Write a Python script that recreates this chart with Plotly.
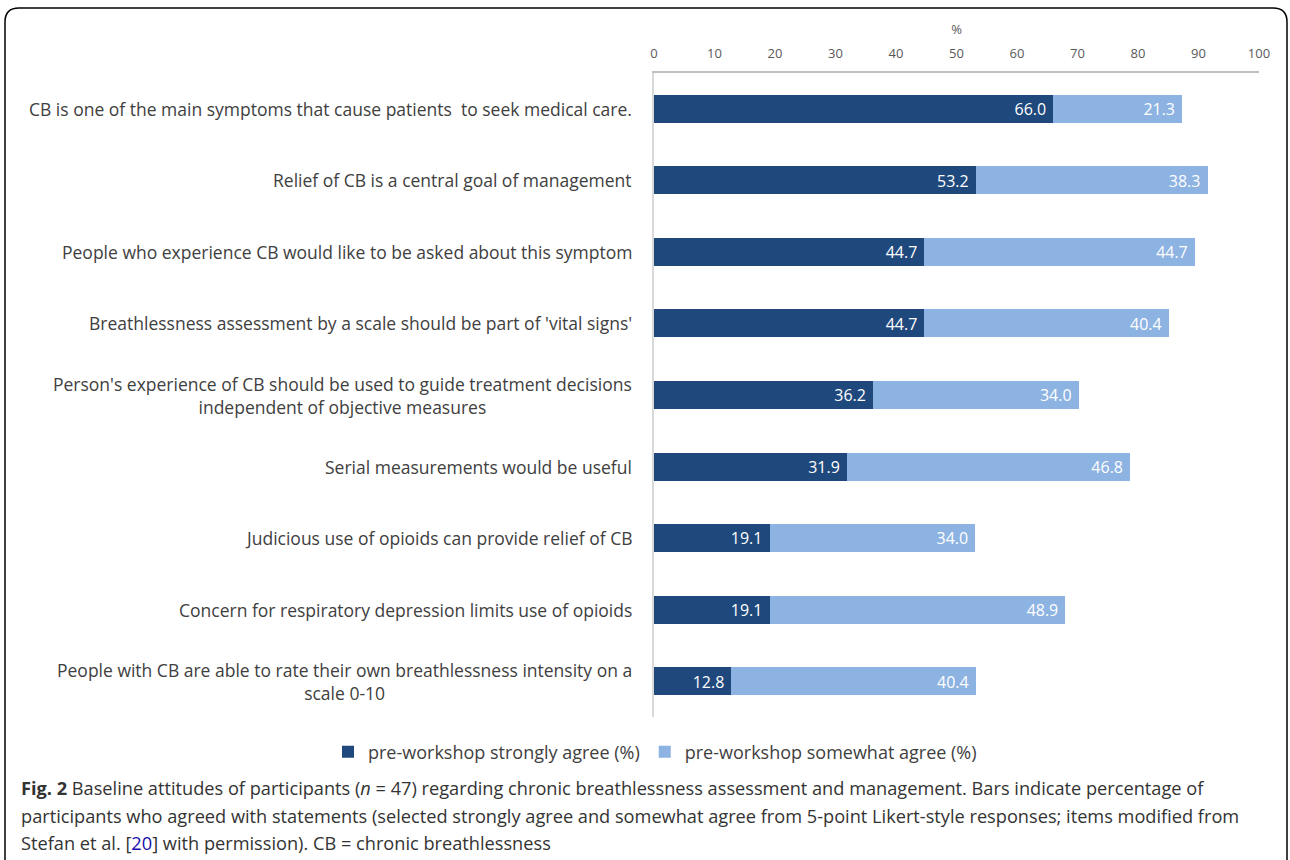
import plotly.graph_objects as go

W, H = 1290, 860

categories = [
    "CB is one of the main symptoms that cause patients  to seek medical care.",
    "Relief of CB is a central goal of management",
    "People who experience CB would like to be asked about this symptom",
    "Breathlessness assessment by a scale should be part of 'vital signs'",
    "Person's experience of CB should be used to guide treatment decisions<br>independent of objective measures",
    "Serial measurements would be useful",
    "Judicious use of opioids can provide relief of CB",
    "Concern for respiratory depression limits use of opioids",
    "People with CB are able to rate their own breathlessness intensity on a<br>scale 0-10",
]
strongly_agree = [66.0, 53.2, 44.7, 44.7, 36.2, 31.9, 19.1, 19.1, 12.8]
somewhat_agree = [21.3, 38.3, 44.7, 40.4, 34.0, 46.8, 34.0, 48.9, 40.4]
series_names = ["pre-workshop strongly agree (%)", "pre-workshop somewhat agree (%)"]
x_ticks = [0, 10, 20, 30, 40, 50, 60, 70, 80, 90, 100]

DARK = "#1F497D"
LIGHT = "#8DB3E2"
FONT = "Open Sans"


def px(x):
    return x / W


def py(y):
    return 1 - y / H


fig = go.Figure()
for name, vals, col in [(series_names[0], strongly_agree, DARK),
                        (series_names[1], somewhat_agree, LIGHT)]:
    fig.add_trace(go.Bar(
        y=categories, x=vals, name=name, orientation="h",
        marker=dict(color=col, line=dict(width=0)),
        width=0.39,
        text=[f"{v:.1f}\u00a0" for v in vals],
        texttemplate="%{text}",
        textposition="inside", insidetextanchor="end",
        textfont=dict(color="white", size=17.5, family=FONT),
    ))

annotations = []
for c in categories:
    annotations.append(dict(
        x=px(634), xref="paper", y=c, yref="y", xanchor="right", yanchor="middle",
        text=c, showarrow=False, align="center",
        font=dict(family=FONT, size=17.5, color="#404040"),
    ))

caption = [
    "<b>Fig. 2</b> Baseline attitudes of participants (<i>n</i> = 47) regarding chronic breathlessness assessment and management. Bars indicate percentage of",
    "participants who agreed with statements (selected strongly agree and somewhat agree from 5-point Likert-style responses; items modified from",
    "Stefan et al. [<span style='color:#1a0dab'>20</span>] with permission). CB = chronic breathlessness",
]
for i, line in enumerate(caption):
    annotations.append(dict(
        x=px(19), xref="paper", y=py(788 + 27.5 * i), yref="paper",
        xanchor="left", yanchor="middle", text=line, showarrow=False, align="left",
        font=dict(family=FONT, size=18.2, color="#333333"),
    ))

# rounded border (open at the bottom, it continues past the picture edge)
l, r, t, b, rad = 5, 1287, 8, 860, 14
path = (f"M {px(l)},{py(b)} L {px(l)},{py(t + rad)} Q {px(l)},{py(t)} {px(l + rad)},{py(t)} "
        f"L {px(r - rad)},{py(t)} Q {px(r)},{py(t)} {px(r)},{py(t + rad)} "
        f"L {px(r)},{py(b)}")

fig.update_layout(
    width=W, height=H, autosize=False,
    margin=dict(l=0, r=0, t=0, b=0, pad=0, autoexpand=False),
    paper_bgcolor="white", plot_bgcolor="white",
    barmode="stack",
    font=dict(family=FONT, color="#595959"),
    xaxis=dict(
        domain=[px(654), px(1259)], range=[0, 100], side="top",
        tickvals=x_ticks, showgrid=False, zeroline=False,
        showline=True, linecolor="#BFBFBF", linewidth=1.5,
        ticks="", ticklabelstandoff=8, automargin=False,
        tickfont=dict(family=FONT, size=13, color="#595959"),
        title=dict(text="%", font=dict(family=FONT, size=13, color="#595959"), standoff=6),
        fixedrange=True,
    ),
    yaxis=dict(
        domain=[py(717), py(73)], autorange="reversed",
        showticklabels=False, showgrid=False, zeroline=False,
        showline=True, linecolor="#D9D9D9", linewidth=1.5, ticks="",
        automargin=False, fixedrange=True,
    ),
    legend=dict(
        orientation="h", x=px(655), xanchor="center", y=py(752), yanchor="middle",
        font=dict(family=FONT, size=18, color="#404040"),
        itemwidth=30, traceorder="normal",
    ),
    annotations=annotations,
    shapes=[dict(type="path", xref="paper", yref="paper", path=path,
                 line=dict(color="black", width=1.5))],
    showlegend=True,
)

fig.write_html("out.html")
